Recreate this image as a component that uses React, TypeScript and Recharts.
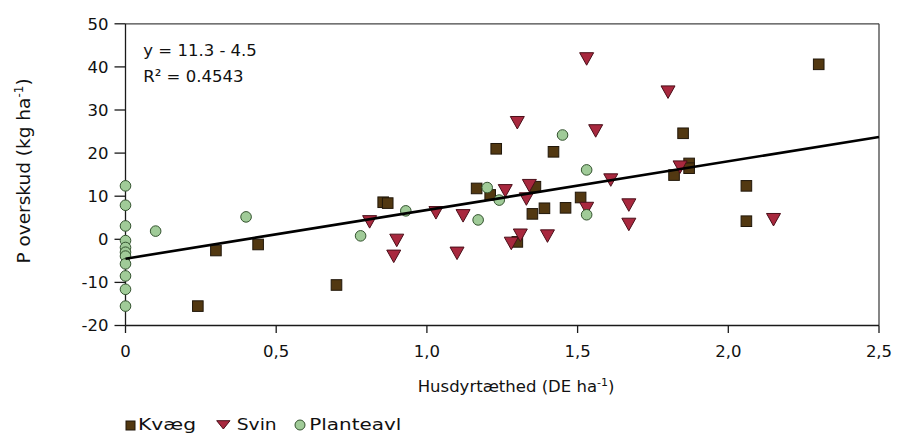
import { ReferenceLine, Scatter, ScatterChart, XAxis, YAxis } from "recharts";

// Husdyrtæthed (DE/ha) against P-overskud (kg/ha) per farm type
const kvaeg = [
  { x: 0.24, y: -15.5 },
  { x: 0.3, y: -2.6 },
  { x: 0.44, y: -1.2 },
  { x: 0.7, y: -10.6 },
  { x: 0.855, y: 8.6 },
  { x: 0.87, y: 8.4 },
  { x: 1.165, y: 11.8 },
  { x: 1.21, y: 10.3 },
  { x: 1.23, y: 21.0 },
  { x: 1.3, y: -0.6 },
  { x: 1.35, y: 5.9 },
  { x: 1.36, y: 12.2 },
  { x: 1.39, y: 7.2 },
  { x: 1.42, y: 20.3 },
  { x: 1.46, y: 7.3 },
  { x: 1.51, y: 9.7 },
  { x: 1.82, y: 14.9 },
  { x: 1.85, y: 24.6 },
  { x: 1.87, y: 17.6 },
  { x: 1.87, y: 16.5 },
  { x: 2.06, y: 12.4 },
  { x: 2.06, y: 4.2 },
  { x: 2.3, y: 40.6 },
];

const svin = [
  { x: 0.81, y: 4.1 },
  { x: 0.89, y: -3.9 },
  { x: 0.9, y: -0.2 },
  { x: 1.03, y: 6.2 },
  { x: 1.1, y: -3.2 },
  { x: 1.12, y: 5.5 },
  { x: 1.26, y: 11.3 },
  { x: 1.28, y: -0.9 },
  { x: 1.3, y: 27.1 },
  { x: 1.31, y: 1.0 },
  { x: 1.33, y: 9.4 },
  { x: 1.34, y: 12.5 },
  { x: 1.4, y: 0.8 },
  { x: 1.53, y: 41.9 },
  { x: 1.53, y: 7.2 },
  { x: 1.56, y: 25.2 },
  { x: 1.61, y: 13.8 },
  { x: 1.67, y: 8.0 },
  { x: 1.67, y: 3.5 },
  { x: 1.8, y: 34.2 },
  { x: 1.84, y: 16.8 },
  { x: 2.15, y: 4.6 },
];

const planteavl = [
  { x: 0, y: 12.4 },
  { x: 0, y: 7.9 },
  { x: 0, y: 3.1 },
  { x: 0, y: -0.3 },
  { x: 0, y: -1.9 },
  { x: 0, y: -3.0 },
  { x: 0, y: -3.9 },
  { x: 0, y: -5.7 },
  { x: 0, y: -8.5 },
  { x: 0, y: -11.6 },
  { x: 0, y: -15.5 },
  { x: 0.1, y: 1.9 },
  { x: 0.4, y: 5.2 },
  { x: 0.78, y: 0.8 },
  { x: 0.93, y: 6.6 },
  { x: 1.17, y: 4.5 },
  { x: 1.2, y: 12.0 },
  { x: 1.24, y: 9.1 },
  { x: 1.45, y: 24.2 },
  { x: 1.53, y: 16.1 },
  { x: 1.53, y: 5.7 },
];

const xTicks = [0, 0.5, 1, 1.5, 2, 2.5];
const xTickLabels = ["0", "0,5", "1,0", "1,5", "2,0", "2,5"];
const yTicks = [-20, -10, 0, 10, 20, 30, 40, 50];

// linear fit, as printed on the chart
const slope = 11.3;
const intercept = -4.5;
const r2 = "0.4543";
const fitLine = [xTicks[0], xTicks[xTicks.length - 1]].map((x) => ({
  x,
  y: slope * x + intercept,
}));

const FONT = "DejaVu Sans";
const AXIS = "#1a1a1a";

const KVAEG_FILL = "#523811";
const KVAEG_STROKE = "#21170a";
const SVIN_FILL = "#a8283e";
const SVIN_STROKE = "#4a0f19";
const PLANTE_FILL = "#a0cb98";
const PLANTE_STROKE = "#34532f";

const Square = ({ cx, cy }: any) => (
  <rect x={cx - 5.3} y={cy - 5.3} width={10.6} height={10.6} fill={KVAEG_FILL} stroke={KVAEG_STROKE} strokeWidth={1} />
);

const TriangleDown = ({ cx, cy }: any) => (
  <path
    d={`M${cx - 7},${cy - 6}L${cx + 7},${cy - 6}L${cx},${cy + 6.5}Z`}
    fill={SVIN_FILL}
    stroke={SVIN_STROKE}
    strokeWidth={1}
  />
);

const Dot = ({ cx, cy }: any) => (
  <circle cx={cx} cy={cy} r={5.3} fill={PLANTE_FILL} stroke={PLANTE_STROKE} strokeWidth={1} />
);

const tickStyle = { fill: "#111", fontSize: 16.5, fontFamily: FONT };

export default function App() {
  return (
    <ScatterChart width={896} height={429} margin={{ top: 15.8, right: 25, bottom: 51.5, left: 0 }}>
      <XAxis
        type="number"
        dataKey="x"
        domain={[0, 2.5]}
        ticks={xTicks}
        tickFormatter={(v: number) => xTickLabels[xTicks.indexOf(v)]}
        height={60}
        tickSize={7.5}
        tickMargin={12}
        axisLine={{ stroke: AXIS, strokeWidth: 1.3 }}
        tickLine={{ stroke: AXIS, strokeWidth: 1.3 }}
        tick={tickStyle}
      />
      <YAxis
        type="number"
        dataKey="y"
        domain={[-20, 50]}
        ticks={yTicks}
        width={117.5}
        tickSize={11}
        tickMargin={6}
        axisLine={{ stroke: AXIS, strokeWidth: 1.3 }}
        tickLine={{ stroke: AXIS, strokeWidth: 1.3 }}
        tick={tickStyle}
      />
      <ReferenceLine y={50} stroke="#444" strokeWidth={1.3} />
      <ReferenceLine x={2.5} stroke="#444" strokeWidth={1.3} />

      <Scatter name="Kvæg" data={kvaeg} shape={Square} isAnimationActive={false} />
      <Scatter name="Svin" data={svin} shape={TriangleDown} isAnimationActive={false} />
      <Scatter name="Planteavl" data={planteavl} shape={Dot} isAnimationActive={false} />
      <Scatter
        data={fitLine}
        line={{ stroke: "#000", strokeWidth: 2.6 }}
        shape={() => <g />}
        isAnimationActive={false}
      />

      {/* regression text */}
      <g fontFamily={FONT} fontSize={16.5} fill="#111">
        <text x={135.3} y={48}>
          y = {slope} - {Math.abs(intercept)}
        </text>
        <text x={135.3} y={73.7}>
          R² = {r2}
        </text>
      </g>

      {/* axis titles */}
      <text x={409.7} y={383.7} fontFamily={FONT} fontSize={16.5} fill="#111">
        Husdyrtæthed (DE ha
        <tspan dy={-6} fontSize={11}>
          -1
        </tspan>
        <tspan dy={6}>)</tspan>
      </text>
      <text
        transform="translate(22,163) rotate(-90)"
        textAnchor="middle"
        fontFamily={FONT}
        fontSize={18.5}
        fill="#111"
      >
        P overskud (kg ha
        <tspan dy={-7} fontSize={12}>
          -1
        </tspan>
        <tspan dy={7}>)</tspan>
      </text>

      {/* legend */}
      <g fontFamily={FONT} fontSize={16} fill="#111">
        <rect x={118} y={413} width={9} height={9} fill={KVAEG_FILL} stroke={KVAEG_STROKE} />
        <text x={130} y={422} textLength={58} lengthAdjust="spacingAndGlyphs">
          Kvæg
        </text>
        <path d="M208.7,412.7L222,412.7L215.35,421Z" fill={SVIN_FILL} stroke={SVIN_STROKE} />
        <text x={228.7} y={422} textLength={40} lengthAdjust="spacingAndGlyphs">
          Svin
        </text>
        <circle cx={292} cy={417} r={5} fill={PLANTE_FILL} stroke={PLANTE_STROKE} />
        <text x={301.3} y={422} textLength={92} lengthAdjust="spacingAndGlyphs">
          Planteavl
        </text>
      </g>
    </ScatterChart>
  );
}
